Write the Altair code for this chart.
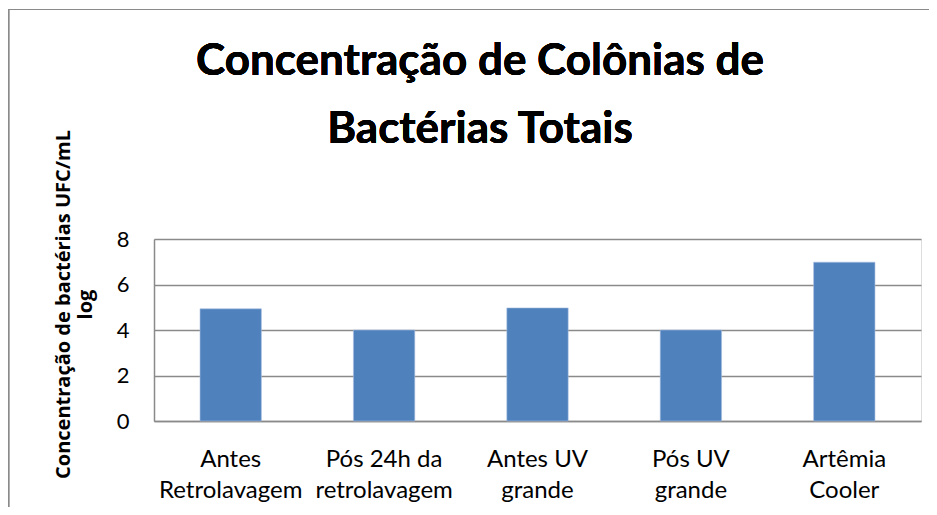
import altair as alt
import pandas as pd

categories = [
    ["Antes", "Retrolavagem"],
    ["Pós 24h da", "retrolavagem"],
    ["Antes UV", "grande"],
    ["Pós UV", "grande"],
    ["Artêmia", "Cooler"],
]
values = [4.93, 4.0, 4.97, 4.0, 6.98]
y_ticks = [0, 2, 4, 6, 8]
title_lines = ["Concentração de Colônias de", "Bactérias Totais"]
y_title_lines = ["Concentração de bactérias UFC/mL", "log"]

keys = [" ".join(c) for c in categories]
df = pd.DataFrame({"cat": keys, "val": values})
label_expr = "{" + ", ".join(
    f"'{k}': ['{c[0]}', '{c[1]}']" for k, c in zip(keys, categories)
) + "}[datum.value]"

W, H = 767, 182
PL, PT, PR, PB = 146, 231, 8, 86
GRID = "#8a8a8a"
FONT = "Lato"

bars = alt.Chart(df).mark_bar(
    color="#4F81BD", stroke="#a8c0e0", strokeWidth=0.6
).encode(
    x=alt.X(
        "cat:N",
        sort=keys,
        scale=alt.Scale(paddingInner=0.6, paddingOuter=0.3),
        axis=alt.Axis(
            title=None,
            labelExpr=label_expr,
            labelAngle=0,
            labelFont=FONT,
            labelFontSize=24,
            labelColor="#000000",
            labelBaseline="alphabetic",
            labelLineHeight=31,
            labelPadding=45,
            ticks=False,
            domain=True,
            domainColor=GRID,
            domainWidth=1.5,
            grid=False,
        ),
    ),
    y=alt.Y(
        "val:Q",
        scale=alt.Scale(domain=[0, 8], nice=False),
        axis=alt.Axis(
            values=y_ticks,
            title=y_title_lines,
            titleFont="Open Sans",
            titleFontSize=20,
            titleFontWeight="bold",
            titleColor="#000000",
            titleLineHeight=22,
            titleAngle=-90,
            titleAlign="center",
            titleBaseline="middle",
            titleX=-91,
            titleY=65,
            labelFont=FONT,
            labelFontSize=22,
            labelColor="#000000",
            labelPadding=25,
            ticks=False,
            domain=True,
            domainColor=GRID,
            domainWidth=1.5,
            grid=True,
            gridColor=GRID,
            gridWidth=1.5,
        ),
    ),
)

title = alt.Chart(df).mark_text(
    font=FONT,
    fontSize=44,
    fontWeight="bold",
    color="#000000",
    align="center",
    baseline="alphabetic",
    lineHeight=68,
).encode(
    x=alt.value(326),
    y=alt.value(-164),
    text=alt.value(title_lines),
)

frame_top = alt.Chart(df).mark_rule(color="#8a8a8a", strokeWidth=1.2).encode(
    x=alt.value(-PL), x2=alt.value(W + PR), y=alt.value(-PT + 1.5)
)
frame_left = alt.Chart(df).mark_rule(color="#8a8a8a", strokeWidth=1.2).encode(
    x=alt.value(-PL + 0.6), y=alt.value(-PT + 1.5), y2=alt.value(H + PB)
)

chart = alt.layer(bars, title, frame_top, frame_left).properties(
    width=W,
    height=H,
    padding={"left": PL, "top": PT, "right": PR, "bottom": PB},
    autosize=alt.AutoSizeParams(type="none"),
).configure_view(stroke=None).configure(background="#ffffff")

chart.save("out.html", embed_options={"renderer": "svg", "actions": False})
